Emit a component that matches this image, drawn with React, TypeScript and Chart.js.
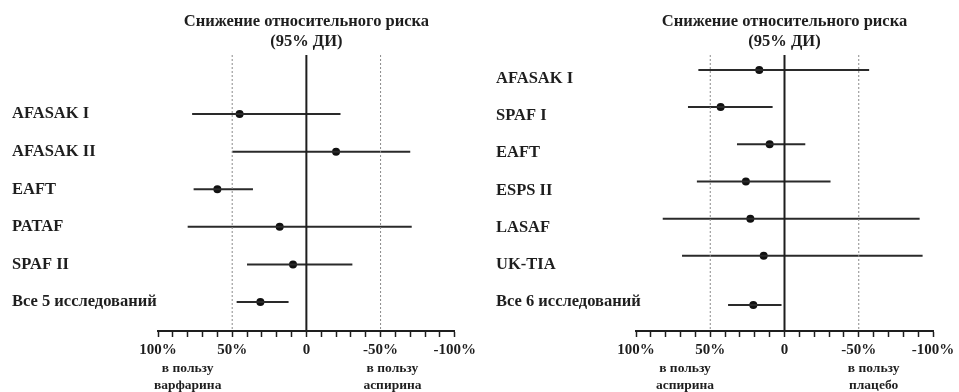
import React, { useEffect, useRef } from 'react';
import { Chart, registerables } from 'chart.js';

Chart.register(...registerables);

const FONT = '"Liberation Serif", "Times New Roman", serif';
const INK = '#1e1e1e';

// ---- shared axis data ----
const xTickValues = [100, 50, 0, -50, -100];
const xTickLabels = ['100%', '50%', '0', '-50%', '-100%'];
const dottedRefs = [50, -50];
const titleLines = ['Снижение относительного риска', '(95% ДИ)'];

// ---- left panel: warfarin vs aspirin ----
const leftStudies = ['AFASAK I', 'AFASAK II', 'EAFT', 'PATAF', 'SPAF II', 'Все 5 исследований'];
const leftRows = [0, 1, 2, 3, 4, 5];
const leftLabelPos = [0, 1, 2, 3, 4, 5];
const leftEstimate = [45, -20, 60, 18, 9, 31];
const leftCiHigh = [77, 50, 76, 80, 40, 47];
const leftCiLow = [-23, -70, 36, -71, -31, 12];
const leftNotePos = [80, -58];
const leftNotes = [['в пользу', 'варфарина'], ['в пользу', 'аспирина']];

// ---- right panel: aspirin vs placebo ----
const rightStudies = ['AFASAK I', 'SPAF I', 'EAFT', 'ESPS II', 'LASAF', 'UK-TIA', 'Все 6 исследований'];
const rightRows = [0, 1, 2, 3, 4, 5, 6.32];
const rightLabelPos = [0.24, 1.24, 2.24, 3.24, 4.24, 5.24, 6.24];
const rightEstimate = [17, 43, 10, 26, 23, 14, 21];
const rightCiHigh = [58, 65, 32, 59, 82, 69, 38];
const rightCiLow = [-57, 8, -14, -31, -91, -93, 2];
const rightNotePos = [67, -60];
const rightNotes = [['в пользу', 'аспирина'], ['в пользу', 'плацебо']];

type PanelProps = {
  width: number;
  studies: string[];
  rows: number[];
  labelPos: number[];
  estimate: number[];
  ciHigh: number[];
  ciLow: number[];
  notePos: number[];
  notes: string[][];
  yMin: number;
  yMax: number;
  padLeft: number;
  padRight: number;
  yWidth: number;
};

function ForestPanel(p: PanelProps) {
  const ref = useRef<HTMLCanvasElement>(null);
  useEffect(() => {
    if (!ref.current) return;
    const datasets: any[] = [];
    datasets.push({
      data: [{ x: 0, y: p.yMin }, { x: 0, y: p.yMax }],
      showLine: true,
      borderColor: INK,
      borderWidth: 2,
      pointRadius: 0,
    });
    dottedRefs.forEach((v) =>
      datasets.push({
        data: [{ x: v, y: p.yMin }, { x: v, y: p.yMax }],
        showLine: true,
        borderColor: '#8a8a8a',
        borderWidth: 1,
        borderDash: [2, 2],
        pointRadius: 0,
      })
    );
    p.rows.forEach((r, i) =>
      datasets.push({
        data: [{ x: p.ciHigh[i], y: r }, { x: p.ciLow[i], y: r }],
        showLine: true,
        borderColor: '#2a2a2a',
        borderWidth: 2,
        pointRadius: 0,
      })
    );
    datasets.push({
      data: p.rows.map((r, i) => ({ x: p.estimate[i], y: r })),
      showLine: false,
      pointRadius: 4,
      backgroundColor: '#111',
      borderColor: '#111',
      borderWidth: 0,
    });

    const chart = new Chart(ref.current, {
      type: 'scatter',
      data: { datasets },
      options: {
        animation: false,
        responsive: false,
        layout: { padding: { left: p.padLeft, right: p.padRight, top: 0, bottom: 0 } },
        plugins: {
          legend: { display: false },
          tooltip: { enabled: false },
          title: {
            display: true,
            text: titleLines,
            fullSize: false,
            color: INK,
            font: { family: FONT, size: 16.5, weight: 'bold', lineHeight: '20px' },
            padding: { top: 12, bottom: 3 },
          },
        },
        scales: {
          x: {
            type: 'linear',
            position: 'bottom',
            min: -100,
            max: 100,
            reverse: true,
            afterFit: (s: any) => {
              s.height = 28;
            },
            ticks: {
              stepSize: 10,
              autoSkip: false,
              maxRotation: 0,
              padding: 4,
              color: INK,
              font: { family: FONT, size: 15, weight: 'bold', lineHeight: '18px' },
              callback: (v: any) => {
                const i = xTickValues.indexOf(Number(v));
                return i >= 0 ? xTickLabels[i] : '';
              },
            },
            grid: { drawOnChartArea: false, drawTicks: true, tickLength: 6, tickColor: INK, tickWidth: 1.5 },
            border: { display: true, color: INK, width: 2 },
          },
          x2: {
            type: 'linear',
            position: 'bottom',
            min: -100,
            max: 100,
            reverse: true,
            afterBuildTicks: (s: any) => {
              s.ticks = p.notePos.map((v) => ({ value: v }));
            },
            afterFit: (s: any) => {
              s.height = 33;
            },
            ticks: {
              autoSkip: false,
              maxRotation: 0,
              padding: 1,
              color: INK,
              font: { family: FONT, size: 13.5, weight: 'bold', lineHeight: '17px' },
              callback: (v: any) => {
                const i = p.notePos.indexOf(Number(v));
                return i >= 0 ? p.notes[i] : '';
              },
            },
            grid: { display: false, drawTicks: false },
            border: { display: false },
          },
          y: {
            type: 'linear',
            min: p.yMin,
            max: p.yMax,
            reverse: true,
            afterBuildTicks: (s: any) => {
              s.ticks = p.labelPos.map((v) => ({ value: v }));
            },
            afterFit: (s: any) => {
              s.width = p.yWidth;
              // let long study names run past the axis box instead of being clipped
              s._computeLabelArea = () => undefined;
            },
            ticks: {
              autoSkip: false,
              crossAlign: 'far',
              color: INK,
              font: { family: FONT, size: 16.5, weight: 'bold' },
              callback: (v: any) => {
                const i = p.labelPos.indexOf(Number(v));
                return i >= 0 ? p.studies[i] : '';
              },
            },
            grid: { display: false },
            border: { display: false },
          },
        },
      } as any,
    });
    return () => chart.destroy();
  }, []);
  return (
    <canvas
      ref={ref}
      width={p.width}
      height={392}
      style={{ display: 'block', width: p.width, height: 392 }}
    />
  );
}

export default function App() {
  useEffect(() => {
    document.body.style.margin = '0';
  }, []);
  return (
    <div
      style={{
        position: 'absolute',
        left: 0,
        top: 0,
        width: 959,
        height: 392,
        display: 'flex',
        background: '#fff',
        overflow: 'hidden',
      }}
    >
      <ForestPanel
        width={480}
        studies={leftStudies}
        rows={leftRows}
        labelPos={leftLabelPos}
        estimate={leftEstimate}
        ciHigh={leftCiHigh}
        ciLow={leftCiLow}
        notePos={leftNotePos}
        notes={leftNotes}
        yMin={-1.57}
        yMax={5.77}
        padLeft={12}
        padRight={25}
        yWidth={146}
      />
      <ForestPanel
        width={479}
        studies={rightStudies}
        rows={rightRows}
        labelPos={rightLabelPos}
        estimate={rightEstimate}
        ciHigh={rightCiHigh}
        ciLow={rightCiLow}
        notePos={rightNotePos}
        notes={rightNotes}
        yMin={-0.4}
        yMax={7.02}
        padLeft={16}
        padRight={26}
        yWidth={140}
      />
    </div>
  );
}
